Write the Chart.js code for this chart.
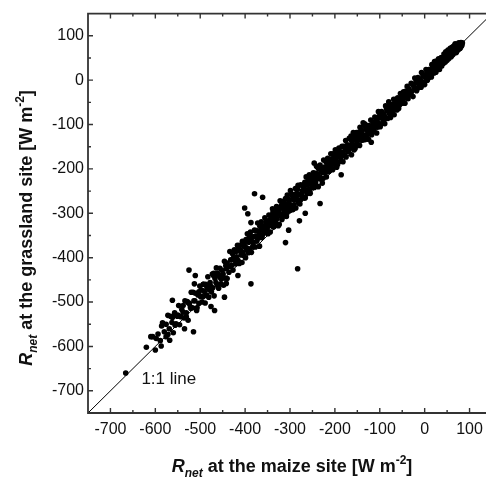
<!DOCTYPE html>
<html>
<head>
<meta charset="utf-8">
<script src="https://cdn.jsdelivr.net/npm/chart.js@4"></script>
<style>
  html, body { margin: 0; padding: 0; background: #fff; overflow: hidden; }
  #wrap { width: 486px; height: 478px; overflow: hidden; }
</style>
</head>
<body>
<div id="wrap"><canvas id="rnetChart" width="500" height="478"></canvas></div>
<script>
// R_net at the maize site (x) vs R_net at the grassland site (y), W m-2
const bandMaize = [
  84, 83, 81, 80, 79, 78, 77, 76, 75, 74, 73, 72, 71, 70, 69, 68, 67, 66, 65, 64,
  63, 62, 61, 60, 59, 58, 57, 56, 55, 54, 53, 52, 51, 50, 49, 48, 47, 46, 45, 44,
  43, 42, 41, 40, 79, 82, 74, 70, 66, 61,
  39, 38, 36, 35, 34, 33, 31, 30, 29, 28, 27, 25, 24, 23, 22, 21, 19, 18, 17, 16,
  15, 14, 12, 11, 10, 9, 8, 6, 5, 4, 3, 2, 1, 0, 37, 32, 26, 20, 13, 7,
  -1, -2, -4, -5, -7, -8, -9, -11, -12, -14, -15, -16, -18, -19, -21, -22, -23, -25, -26, -28,
  -29, -30, -32, -33, -35, -36, -37, -39, -40, -42, -43, -44, -46, -47, -49, -50, -51, -53, -54, -56,
  -57, -58, -60, -17, -38,
  -61, -62, -64, -65, -66, -68, -69, -71, -72, -73, -75, -76, -78, -79, -80, -82, -83, -85, -86, -87,
  -89, -90, -92, -93, -94, -96, -97, -99, -100, -101, -103, -104, -106, -107, -108, -110, -111, -113, -114, -115,
  -117, -118, -120, -121, -122, -124, -125, -127, -128, -130,
  -131, -133, -134, -135, -137, -138, -140, -141, -142, -144, -145, -147, -148, -149, -151, -152, -154, -155, -156, -158,
  -159, -161, -162, -163, -165, -166, -168, -169, -170, -172, -173, -175, -176, -177, -179, -180, -182, -183, -184, -186,
  -187, -189, -190, -191, -193, -194, -196, -197, -198, -200,
  -201, -202, -204, -205, -206, -208, -209, -211, -212, -213, -215, -216, -218, -219, -220, -222, -223, -225, -226, -227,
  -229, -230, -232, -233, -234, -236, -237, -239, -240, -241, -243, -244, -246, -247, -248, -250, -251, -253, -254, -255,
  -257, -258, -260, -261, -262, -264, -265, -267, -268, -269, -271, -272, -274, -276, -278,
  -280, -281, -283, -284, -285, -287, -288, -290, -291, -292, -294, -295, -297, -298, -299, -301, -302, -304, -305, -306,
  -308, -309, -311, -312, -313, -315, -316, -318, -319, -320, -322, -323, -325, -326, -327, -329, -330, -332, -333, -334,
  -336, -337, -339, -340, -341, -343, -344, -346, -347, -348, -350, -352, -354, -356, -358,
  -360, -361, -363, -364, -365, -367, -368, -370, -371, -372, -374, -375, -377, -378, -379, -381, -382, -384, -385, -386,
  -388, -389, -391, -392, -393, -395, -396, -398, -399, -400, -402, -403, -405, -406, -407, -409, -410, -412, -413, -414,
  -416, -417, -419, -420, -421, -423, -424, -426, -427, -428, -430, -432, -434, -436, -438,
  -440, -442, -443, -445, -446, -448, -449, -451, -453, -454, -456, -457, -459, -461, -462, -464, -465, -467, -469, -470,
  -472, -473, -475, -477, -478, -480, -481, -483, -485, -486, -488, -489, -491, -493, -494, -496, -497, -499, -501, -503,
  -505, -508, -511, -514, -517,
  -520, -522, -524, -527, -529, -531, -534, -536, -538, -541, -543, -546, -548, -551, -554, -557, -560, -563, -566, -569,
  -572, -576, -580, -584, -589, -594, -600, -610
];
const bandGrass = [
  84, 79, 85, 74, 81, 77, 70, 84, 75, 68, 80, 73, 64, 77, 71, 82, 62, 72, 67, 76,
  58, 69, 74, 63, 53, 67, 72, 58, 64, 49, 61, 68, 55, 45, 60, 52, 64, 41, 55, 48,
  59, 38, 50, 44, 72, 77, 78, 62, 78, 56,
  43, 32, 49, 35, 43, 24, 48, 33, 26, 39, 33, 18, 39, 24, 42, 16, 26, 30, 15, 35,
  7, 19, 22, 13, 6, 24, 15, 0, 18, 3, 24, 6, 10, -10, 51, 33, 43, 18, 18, 18,
  -5, 9, 12, -5, 17, -16, -1, 3, -8, -17, 6, -6, -24, -2, -20, 5, -17, -12, -37, -9,
  -26, -7, -33, -24, -20, -30, -42, -14, -28, -40, -25, -52, -36, -26, -45, -52, -35, -46, -30, -56,
  -44, -64, -40, -6, -35,
  -52, -67, -43, -63, -51, -78, -43, -65, -73, -55, -64, -84, -55, -75, -49, -86, -69, -65, -86, -58,
  -98, -80, -75, -88, -97, -71, -84, -105, -79, -99, -71, -96, -90, -119, -85, -106, -83, -114, -103, -97,
  -110, -123, -90, -107, -119, -102, -133, -115, -103, -124,
  -111, -134, -102, -124, -96, -135, -118, -112, -135, -106, -147, -129, -122, -136, -147, -118, -133, -154, -127, -149,
  -118, -145, -138, -168, -133, -154, -131, -162, -151, -146, -158, -173, -136, -154, -169, -149, -184, -163, -149, -173,
  -182, -161, -173, -153, -185, -169, -196, -164, -176, -188,
  -185, -176, -166, -202, -177, -196, -166, -190, -180, -205, -198, -176, -194, -218, -184, -208, -196, -180, -221, -208,
  -198, -207, -222, -191, -218, -200, -240, -211, -220, -194, -231, -210, -242, -222, -209, -242, -235, -223, -232, -255,
  -213, -247, -227, -235, -256, -218, -250, -230, -266, -245, -239, -263, -256, -236, -279,
  -258, -276, -245, -269, -255, -288, -244, -270, -281, -258, -268, -292, -257, -282, -249, -294, -274, -268, -293, -259,
  -307, -285, -278, -294, -304, -273, -289, -314, -282, -306, -272, -302, -294, -328, -288, -312, -285, -321, -308, -301,
  -315, -331, -290, -311, -326, -305, -342, -319, -304, -329, -340, -317, -331, -310, -345,
  -328, -338, -355, -319, -350, -329, -374, -341, -352, -322, -363, -339, -376, -352, -338, -375, -366, -353, -363, -388,
  -342, -380, -356, -365, -389, -346, -382, -359, -400, -376, -369, -395, -388, -363, -411, -394, -383, -372, -413, -384,
  -406, -372, -398, -386, -414, -406, -382, -401, -428, -391, -417, -405, -386, -433, -420,
  -447, -425, -418, -446, -408, -462, -437, -429, -448, -459, -424, -441, -469, -435, -461, -423, -456, -447, -486, -441,
  -468, -437, -477, -464, -456, -472, -489, -443, -467, -484, -460, -502, -476, -460, -488, -500, -473, -488, -464, -503,
  -484, -519, -480, -497, -513,
  -478, -511, -503, -541, -499, -524, -497, -536, -523, -517, -533, -551, -508, -532, -549, -528, -569, -546, -532, -560,
  -573, -550, -567, -547, -587, -572, -608, -578
];
const fillMaize = [
  -45, -52, -63, -70, -77, -84, -91, -98, -105, -112, -119, -126, -133, -139, -146, -153, -157, -164, -171, -178,
  -183, -188, -194, -199, -203, -207, -214, -219, -224, -228, -231, -235, -238, -242, -245, -249, -252, -256, -259, -263,
  -266, -270, -273, -277, -282, -286, -289, -293, -296, -300, -303, -307, -310, -314, -317, -321, -324, -328, -331, -335,
  -338, -342, -345, -349, -353, -357, -362, -366, -371, -376, -383, -390, -397, -404, -411, -418, -425, -433, -440, -455,
  -482, -487, -493, -498, -503, -507, -512, -516, -521, -526, -531, -538, -544, -550, -556, -562, -470, -476, -458, -465
];
const fillGrass = [
  -36, -50, -47, -58, -72, -64, -84, -84, -106, -94, -105, -122, -99, -127, -117, -136, -157, -126, -146, -168,
  -150, -169, -190, -157, -188, -179, -206, -183, -202, -232, -201, -222, -197, -222, -240, -215, -226, -245, -220, -247,
  -265, -238, -250, -270, -237, -268, -262, -291, -259, -286, -279, -298, -267, -284, -305, -301, -325, -293, -305, -329,
  -298, -325, -316, -346, -320, -336, -351, -328, -356, -351, -375, -348, -378, -373, -411, -382, -402, -420, -412, -445,
  -462, -485, -460, -487, -477, -513, -497, -478, -514, -502, -533, -508, -532, -529, -552, -535, -435, -467, -440, -437
];
const outlierMaize = [
  -666, -620, -587, -606, -598, -562, -525, -557, -515, -468,
  -476, -446, -416, -283, -387, -310, -379, -361, -401, -394,
  -387, -246, -119, -233, -266, -279, -303, -186, -511, -513,
  -442, -568, -576, -586, -572, -535
];
const outlierGrass = [
  -660, -602, -599, -578, -582, -496, -428, -524, -567, -519,
  -510, -489, -440, -425, -459, -366, -256, -264, -288, -301,
  -321, -187, -140, -278, -300, -317, -338, -213, -440, -459,
  -458, -586, -578, -554, -530, -560
];
const oneToOne = [-750, 150];
const axisTicks = [-700, -600, -500, -400, -300, -200, -100, 0, 100];
const minorTicks = [-650, -550, -450, -350, -250, -150, -50, 50];

const FONT = '"Liberation Sans", Arial, Helvetica, sans-serif';

const maizeAll = bandMaize.concat(fillMaize, outlierMaize);
const grassAll = bandGrass.concat(fillGrass, outlierGrass);
const points = maizeAll.map((x, i) => ({ x: x, y: grassAll[i] }));

// axes frame with inward ticks (right side lies outside the picture)
const framePlugin = {
  id: 'frame',
  afterDatasetsDraw(chart) {
    const { ctx, chartArea: a, scales: { x, y } } = chart;
    ctx.save();
    ctx.strokeStyle = '#333';
    ctx.lineWidth = 1.8;
    ctx.beginPath();
    ctx.moveTo(a.right + 2, a.top);
    ctx.lineTo(a.left, a.top);
    ctx.lineTo(a.left, a.bottom);
    ctx.lineTo(a.right + 2, a.bottom);
    ctx.stroke();
    ctx.lineWidth = 1.4;
    ctx.beginPath();
    const mark = (vals, len) => {
      vals.forEach(v => {
        const px = x.getPixelForValue(v);
        ctx.moveTo(px, a.bottom); ctx.lineTo(px, a.bottom - len);
        ctx.moveTo(px, a.top); ctx.lineTo(px, a.top + len);
        const py = y.getPixelForValue(v);
        ctx.moveTo(a.left, py); ctx.lineTo(a.left + len, py);
      });
    };
    mark(axisTicks, 5);
    mark(minorTicks, 3);
    ctx.stroke();

    // 1:1 line label
    ctx.fillStyle = '#111';
    ctx.font = '17px ' + FONT;
    ctx.textBaseline = 'middle';
    ctx.textAlign = 'left';
    ctx.fillText('1:1 line', x.getPixelForValue(-631), y.getPixelForValue(-675));
    ctx.restore();
  }
};

function drawRich(ctx, parts, cx, cy, angle) {
  ctx.save();
  ctx.translate(cx, cy);
  ctx.rotate(angle);
  let total = 0;
  parts.forEach(p => { ctx.font = p.font; total += ctx.measureText(p.text).width; });
  let pos = -total / 2;
  ctx.textBaseline = 'alphabetic';
  ctx.textAlign = 'left';
  ctx.fillStyle = '#111';
  parts.forEach(p => {
    ctx.font = p.font;
    ctx.fillText(p.text, pos, p.dy || 0);
    pos += ctx.measureText(p.text).width;
  });
  ctx.restore();
}

function titleParts(middle) {
  return [
    { text: 'R', font: 'italic bold 18px ' + FONT },
    { text: 'net', font: 'italic bold 12px ' + FONT, dy: 5 },
    { text: ' at the ' + middle + ' site [W m', font: 'bold 18px ' + FONT },
    { text: '-2', font: 'bold 12px ' + FONT, dy: -8 },
    { text: ']', font: 'bold 18px ' + FONT }
  ];
}

const titlePlugin = {
  id: 'titles',
  afterDraw(chart) {
    const ctx = chart.ctx;
    drawRich(ctx, titleParts('maize'), 292, 471.5, 0);
    drawRich(ctx, titleParts('grassland'), 31.5, 228, -Math.PI / 2);
  }
};

const tickFont = { family: FONT, size: 16 };

new Chart(document.getElementById('rnetChart').getContext('2d'), {
  type: 'scatter',
  data: {
    datasets: [
      {
        data: points,
        pointRadius: 2.8,
        pointBackgroundColor: '#000',
        pointBorderWidth: 0,
        order: 0
      },
      {
        type: 'line',
        data: oneToOne.map(v => ({ x: v, y: v })),
        borderColor: '#000',
        borderWidth: 1,
        pointRadius: 0,
        order: 1
      }
    ]
  },
  options: {
    responsive: false,
    animation: false,
    layout: { padding: { left: 0, right: 8, top: 11, bottom: 0 } },
    plugins: { legend: { display: false }, tooltip: { enabled: false } },
    scales: {
      x: {
        type: 'linear',
        min: -750,
        max: 150,
        grid: { display: false, drawTicks: false },
        border: { display: false },
        ticks: { color: '#111', font: tickFont, padding: 7, maxRotation: 0 },
        afterBuildTicks: s => { s.ticks = axisTicks.map(v => ({ value: v })); },
        afterFit: s => { s.height = 65; }
      },
      y: {
        type: 'linear',
        min: -750,
        max: 150,
        grid: { display: false, drawTicks: false },
        border: { display: false },
        ticks: { color: '#111', font: tickFont, padding: 4 },
        afterBuildTicks: s => { s.ticks = axisTicks.map(v => ({ value: v })); },
        afterFit: s => { s.width = 88; }
      }
    }
  },
  plugins: [framePlugin, titlePlugin]
});
</script>
</body>
</html>
